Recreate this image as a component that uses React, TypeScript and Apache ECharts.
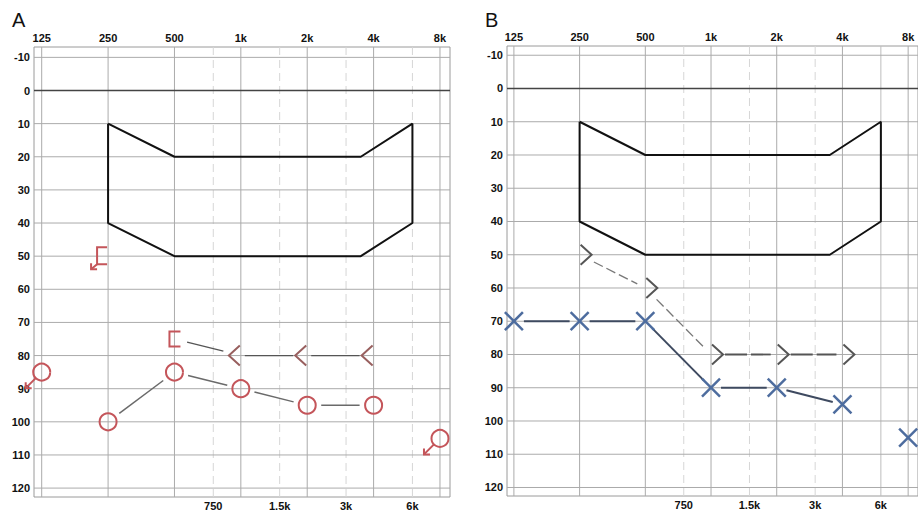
import React, { useEffect, useRef } from 'react';
import * as echarts from 'echarts';

// ---------- axes ----------
const topFreqs = [125, 250, 500, 1000, 2000, 4000, 8000];
const topFreqLabels = ['125', '250', '500', '1k', '2k', '4k', '8k'];
const midFreqs = [750, 1500, 3000, 6000];
const midFreqLabels = ['750', '1.5k', '3k', '6k'];
const dbTicks = [-10, 0, 10, 20, 30, 40, 50, 60, 70, 80, 90, 100, 110, 120];

// ---------- speech band (both panels) ----------
const bandFreqs = [250, 500, 3500, 6000, 6000, 3500, 500, 250, 250];
const bandDb = [10, 20, 20, 10, 40, 50, 50, 40, 10];

// ---------- panel A (right ear) ----------
const aAirFreqs = [250, 500, 1000, 2000, 4000];
const aAirDb = [100, 85, 90, 95, 95];
const aAirNrFreqs = [125, 8000];
const aAirNrDb = [85, 105];
const aBoneMaskFreqs = [500];
const aBoneMaskDb = [75];
const aBoneMaskNrFreqs = [250];
const aBoneMaskNrDb = [50];
const aBoneFreqs = [1000, 2000, 4000];
const aBoneDb = [80, 80, 80];

// ---------- panel B (left ear) ----------
const bAirFreqs = [125, 250, 500, 1000, 2000, 4000];
const bAirDb = [70, 70, 70, 90, 90, 95];
const bAirExtraFreqs = [8000];
const bAirExtraDb = [105];
const bBoneFreqs = [250, 500, 1000, 2000, 4000];
const bBoneDb = [50, 60, 80, 80, 80];

const oct = (f: number) => Math.log2(f / 125);
const topOcts = topFreqs.map(oct);
const midOcts = midFreqs.map(oct);

const RED = '#c4555a';
const LT = '#985f5e';
const BLUE = '#4d6c9e';
const GREY = '#555';

function labelFor(values: number[], labels: string[]) {
  return (v: number) => {
    for (let i = 0; i < values.length; i++) if (Math.abs(values[i] - v) < 1e-6) return labels[i];
    return '';
  };
}

function arrowDL(tx: number, ty: number, sx: number, sy: number, color: string) {
  return [
    { type: 'line', shape: { x1: sx, y1: sy, x2: tx, y2: ty }, style: { stroke: color, lineWidth: 2 } },
    { type: 'polyline', shape: { points: [[tx, ty - 6], [tx, ty], [tx + 6, ty]] }, style: { stroke: color, lineWidth: 2, fill: 'none' } },
  ];
}

function glyph(kind: string, cx: number, cy: number, color: string): any[] {
  switch (kind) {
    case 'circle':
      return [{ type: 'circle', shape: { cx, cy, r: 8.5 }, style: { fill: 'none', stroke: color, lineWidth: 2 } }];
    case 'circleNR':
      return [
        { type: 'circle', shape: { cx, cy, r: 8.5 }, style: { fill: 'none', stroke: color, lineWidth: 2 } },
        ...arrowDL(cx - 16, cy + 16, cx - 6, cy + 6, color),
      ];
    case 'x':
      return [
        { type: 'line', shape: { x1: cx - 9, y1: cy - 9, x2: cx + 9, y2: cy + 9 }, style: { stroke: color, lineWidth: 2.5 } },
        { type: 'line', shape: { x1: cx - 9, y1: cy + 9, x2: cx + 9, y2: cy - 9 }, style: { stroke: color, lineWidth: 2.5 } },
      ];
    case 'gt':
      return [{ type: 'polyline', shape: { points: [[cx + 1, cy - 10], [cx + 12, cy], [cx + 1, cy + 10]] }, style: { stroke: color, lineWidth: 2, fill: 'none' } }];
    case 'lt':
      return [{ type: 'polyline', shape: { points: [[cx - 1, cy - 10], [cx - 12, cy], [cx - 1, cy + 10]] }, style: { stroke: color, lineWidth: 2, fill: 'none' } }];
    case 'bracket':
      return [{ type: 'polyline', shape: { points: [[cx + 6, cy - 7.5], [cx - 5, cy - 7.5], [cx - 5, cy + 7.5], [cx + 6, cy + 7.5]] }, style: { stroke: color, lineWidth: 2, fill: 'none' } }];
    case 'bracketNR':
      return [
        { type: 'polyline', shape: { points: [[cx - 1, cy - 9], [cx - 11, cy - 9], [cx - 11, cy + 8], [cx - 1, cy + 8]] }, style: { stroke: color, lineWidth: 2, fill: 'none' } },
        ...arrowDL(cx - 17, cy + 13, cx - 11, cy + 8, color),
      ];
  }
  return [];
}

function markerSeries(gi: number, freqs: number[], dbs: number[], kind: string, color: string) {
  return {
    type: 'custom',
    xAxisIndex: gi * 2,
    yAxisIndex: gi,
    z: 5,
    silent: true,
    data: freqs.map((f, i) => [oct(f), dbs[i]]),
    renderItem: (params: any, api: any) => {
      const p = api.coord([api.value(0), api.value(1)]);
      return { type: 'group', children: glyph(kind, p[0], p[1], color) };
    },
  };
}

function segSeries(gi: number, freqs: number[], dbs: number[], g1: number, g2: number, style: any) {
  const data: number[][] = [];
  for (let i = 0; i < freqs.length - 1; i++) data.push([oct(freqs[i]), dbs[i], oct(freqs[i + 1]), dbs[i + 1]]);
  return {
    type: 'custom',
    xAxisIndex: gi * 2,
    yAxisIndex: gi,
    z: 4,
    silent: true,
    data,
    renderItem: (params: any, api: any) => {
      const a = api.coord([api.value(0), api.value(1)]);
      const b = api.coord([api.value(2), api.value(3)]);
      const dx = b[0] - a[0];
      const dy = b[1] - a[1];
      const L = Math.sqrt(dx * dx + dy * dy) || 1;
      const ux = dx / L;
      const uy = dy / L;
      return {
        type: 'line',
        shape: { x1: a[0] + ux * g1, y1: a[1] + uy * g1, x2: b[0] - ux * g2, y2: b[1] - uy * g2 },
        style: { fill: 'none', ...style },
      };
    },
  };
}

function gridLineSeries(gi: number, sixKSolid: boolean) {
  const data: number[][] = [];
  topOcts.forEach((o) => data.push([o, 0, 0]));
  midOcts.forEach((o, i) => data.push([o, 0, sixKSolid && midFreqs[i] === 6000 ? 3 : 1]));
  dbTicks.forEach((d) => data.push([0, d, d === 0 ? 4 : 2]));
  return {
    type: 'custom',
    xAxisIndex: gi * 2,
    yAxisIndex: gi,
    z: 1,
    silent: true,
    data,
    renderItem: (params: any, api: any) => {
      const cs = params.coordSys;
      const kind = api.value(2);
      if (kind === 0 || kind === 1 || kind === 3) {
        const x = api.coord([api.value(0), 0])[0];
        return {
          type: 'line',
          shape: { x1: x, y1: cs.y, x2: x, y2: cs.y + cs.height },
          style: kind === 1
            ? { stroke: '#d6d6d6', lineWidth: 1, lineDash: [8, 5] }
            : { stroke: kind === 3 ? '#bdbdbd' : '#ababab', lineWidth: 1 },
        };
      }
      const y = api.coord([0, api.value(1)])[1];
      return {
        type: 'line',
        shape: { x1: cs.x, y1: y, x2: cs.x + cs.width, y2: y },
        style: kind === 4 ? { stroke: '#444', lineWidth: 1.5 } : { stroke: '#ababab', lineWidth: 1 },
      };
    },
  };
}

const labelFont = { fontFamily: '"Liberation Sans", Arial, sans-serif', fontWeight: 'bold' as const, fontSize: 11, color: '#111' };

function axesFor(gi: number, xmin: number, xmax: number, ymin: number, ymax: number) {
  const xs = [
    {
      type: 'value', gridIndex: gi, position: 'top', min: xmin, max: xmax,
      axisLine: { show: false }, axisTick: { show: false }, splitLine: { show: false },
      axisLabel: { ...labelFont, margin: 4, customValues: topOcts, formatter: labelFor(topOcts, topFreqLabels) },
    },
    {
      type: 'value', gridIndex: gi, position: 'bottom', min: xmin, max: xmax,
      axisLine: { show: false }, axisTick: { show: false }, splitLine: { show: false },
      axisLabel: { ...labelFont, margin: 3, customValues: midOcts, formatter: labelFor(midOcts, midFreqLabels) },
    },
  ];
  const y = {
    type: 'value', gridIndex: gi, inverse: true, min: ymin, max: ymax,
    axisLine: { show: false }, axisTick: { show: false }, splitLine: { show: false },
    axisLabel: { ...labelFont, margin: 4, customValues: dbTicks, formatter: (v: number) => String(Math.round(v)) },
  };
  return { xs, y };
}

export default function App() {
  const ref = useRef<HTMLDivElement>(null);
  useEffect(() => {
    if (!ref.current) return;
    const chart = echarts.init(ref.current, undefined, { renderer: 'svg' });
    const A = axesFor(0, -0.116, 6.151, -13.13, 122.69);
    const B = axesFor(1, -0.105, 6.15, -12.78, 122.56);
    const bandData = bandFreqs.map((f, i) => [oct(f), bandDb[i]]);
    const option: any = {
      animation: false,
      backgroundColor: '#fff',
      grid: [
        { left: 34, top: 47, width: 416, height: 450, show: true, borderColor: '#9a9a9a', borderWidth: 1, backgroundColor: 'transparent' },
        { left: 507, top: 46, width: 416, height: 450, show: true, borderColor: '#9a9a9a', borderWidth: 1, backgroundColor: 'transparent' },
      ],
      xAxis: [...A.xs, ...B.xs],
      yAxis: [A.y, B.y],
      graphic: [
        { type: 'text', left: 12, top: 10, style: { text: 'A', font: '20px "Liberation Sans", Arial, sans-serif', fill: '#111' } },
        { type: 'text', left: 485, top: 10, style: { text: 'B', font: '20px "Liberation Sans", Arial, sans-serif', fill: '#111' } },
      ],
      series: [
        gridLineSeries(0, false),
        gridLineSeries(1, true),
        { type: 'line', xAxisIndex: 0, yAxisIndex: 0, data: bandData, symbol: 'none', lineStyle: { color: '#111', width: 2 }, z: 3, silent: true },
        { type: 'line', xAxisIndex: 2, yAxisIndex: 1, data: bandData, symbol: 'none', lineStyle: { color: '#111', width: 2 }, z: 3, silent: true },
        // panel A lines
        segSeries(0, aAirFreqs, aAirDb, 14, 14, { stroke: '#6a6a6a', lineWidth: 1.5 }),
        segSeries(0, [aBoneMaskFreqs[0], aBoneFreqs[0]], [aBoneMaskDb[0], aBoneDb[0]], 13, 18, { stroke: GREY, lineWidth: 1.3 }),
        segSeries(0, aBoneFreqs, aBoneDb, 4, 14, { stroke: GREY, lineWidth: 1.3 }),
        // panel A markers
        markerSeries(0, aAirFreqs, aAirDb, 'circle', RED),
        markerSeries(0, aAirNrFreqs, aAirNrDb, 'circleNR', RED),
        markerSeries(0, aBoneMaskFreqs, aBoneMaskDb, 'bracket', RED),
        markerSeries(0, aBoneMaskNrFreqs, aBoneMaskNrDb, 'bracketNR', RED),
        markerSeries(0, aBoneFreqs, aBoneDb, 'lt', LT),
        // panel B lines
        segSeries(1, bAirFreqs, bAirDb, 10, 10, { stroke: '#3e4a60', lineWidth: 2 }),
        segSeries(1, bBoneFreqs.slice(0, 3), bBoneDb.slice(0, 3), 16, 9, { stroke: '#777', lineWidth: 1.3, lineDash: [10, 4] }),
        segSeries(1, bBoneFreqs.slice(2), bBoneDb.slice(2), 14, 6, { stroke: '#555', lineWidth: 1.8, lineDash: [22, 4] }),
        // panel B markers
        markerSeries(1, bAirFreqs, bAirDb, 'x', BLUE),
        markerSeries(1, bAirExtraFreqs, bAirExtraDb, 'x', BLUE),
        markerSeries(1, bBoneFreqs, bBoneDb, 'gt', GREY),
      ],
    };
    chart.setOption(option);
    return () => chart.dispose();
  }, []);
  return <div ref={ref} style={{ position: 'fixed', left: 0, top: 0, width: 918, height: 511, background: '#fff' }} />;
}
